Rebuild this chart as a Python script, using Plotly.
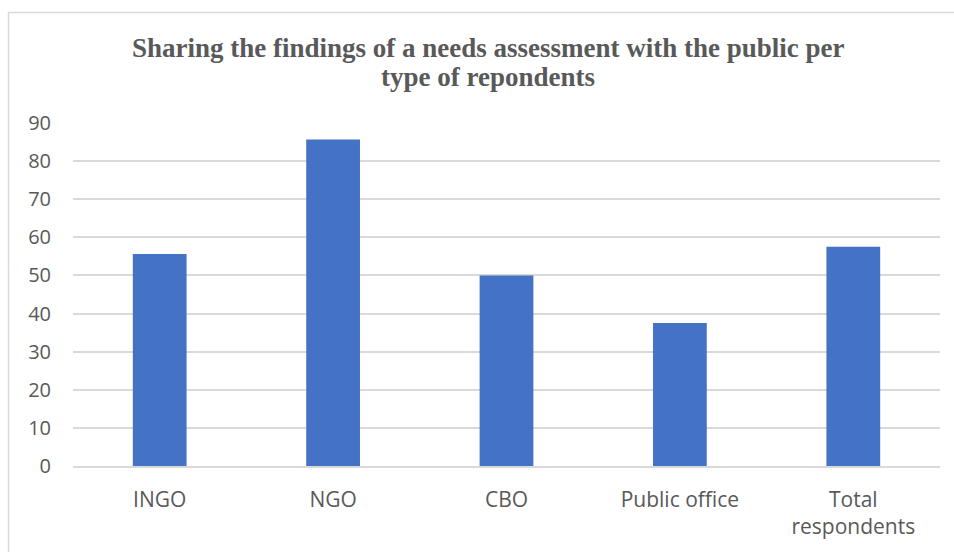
import plotly.graph_objects as go

# Share of respondents (%) who share needs-assessment findings with the public
categories = ["INGO", "NGO", "CBO", "Public office", "Total<br>respondents"]
values = [55.6, 85.7, 50.0, 37.5, 57.5]
y_ticks = [0, 10, 20, 30, 40, 50, 60, 70, 80, 90]
title_lines = [
    "Sharing the findings of a needs assessment with the public per",
    "type of repondents",
]

W, H = 954, 552
L, R, T, B = 73, 14, 123, 83

fig = go.Figure(
    go.Bar(
        x=categories,
        y=values,
        marker=dict(color="#4472C4", line=dict(width=0)),
        width=0.31,
        hoverinfo="x+y",
    )
)

pw = W - L - R
ph = H - T - B

# light outer frame of the chart area
fig.add_shape(
    type="rect", xref="paper", yref="paper",
    x0=(8.5 - L) / pw, x1=(W + 10 - L) / pw,
    y0=-(B + 10) / ph, y1=(H - 11.5 - B) / ph,
    line=dict(color="#D9D9D9", width=1.5),
    fillcolor="rgba(0,0,0,0)", layer="below",
)

# two-line bold serif title, tighter line spacing than the default
title_font = dict(family="Liberation Serif, Times New Roman, serif", size=27,
                  color="#595959", weight="bold")
for i, line in enumerate(title_lines):
    y_px = 47 + 30 * i  # vertical centre of the line, in pixels from the top
    fig.add_annotation(
        text=line, showarrow=False,
        xref="paper", yref="paper",
        x=(488 - L) / pw, xanchor="center",
        y=(H - B - y_px) / ph, yanchor="middle",
        font=title_font,
    )

fig.update_layout(
    width=W, height=H,
    margin=dict(l=L, r=R, t=T, b=B, pad=0),
    paper_bgcolor="white", plot_bgcolor="white",
    showlegend=False,
    font=dict(family="Open Sans, sans-serif", size=20, color="#595959"),
)

fig.update_xaxes(
    showgrid=False, showline=True, linecolor="#D9D9D9", linewidth=1.5,
    ticks="", ticklabelstandoff=14, tickfont=dict(size=21, color="#595959"),
)
fig.update_yaxes(
    range=[0, 90], tickvals=y_ticks, ticktext=[str(v) for v in y_ticks],
    showgrid=True, gridcolor="#D9D9D9", gridwidth=1.5,
    zeroline=False, showline=False, ticks="", ticklabelstandoff=21,
    tickfont=dict(size=20, color="#595959"),
)

fig.write_html("out.html")
